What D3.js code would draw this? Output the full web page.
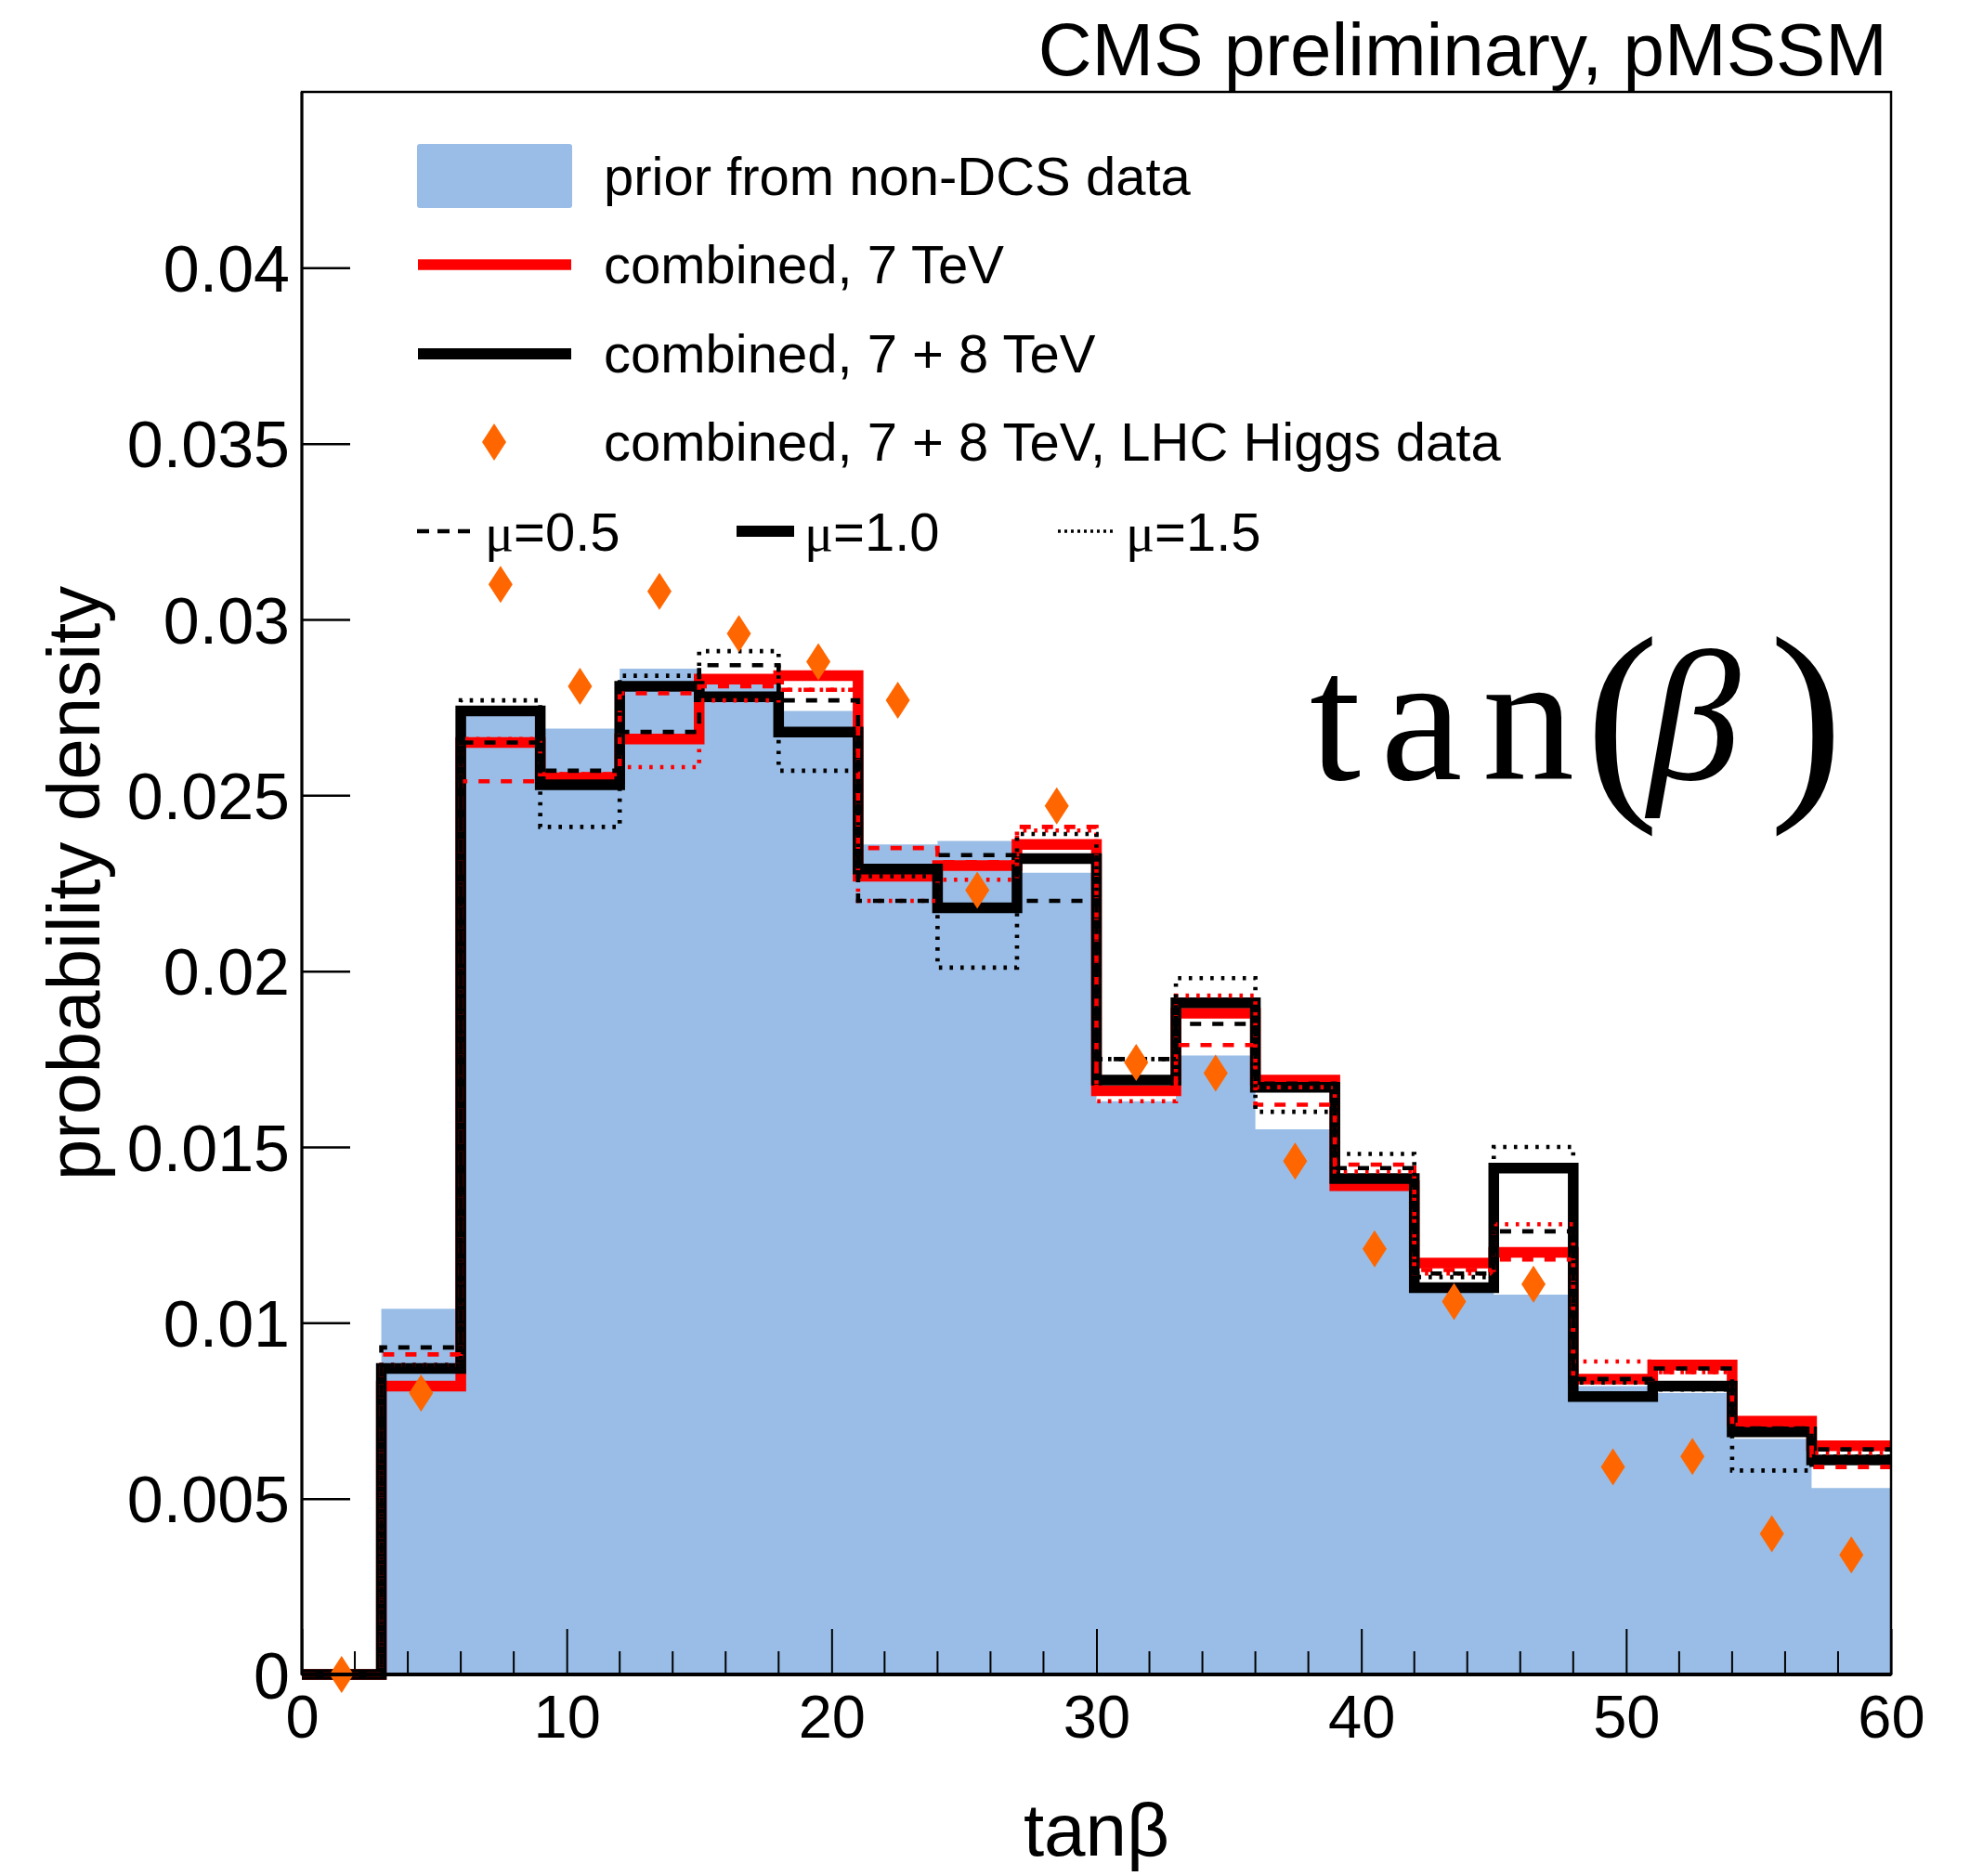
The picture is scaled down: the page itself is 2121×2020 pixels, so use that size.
<!DOCTYPE html>
<html>
<head>
<meta charset="utf-8">
<script src="https://cdn.jsdelivr.net/npm/d3@7"></script>
<style>
  html, body { margin: 0; padding: 0; background: #fff; }
</style>
</head>
<body>
<svg id="chart" width="2121" height="2020" font-family="Liberation Sans, Arial, sans-serif"></svg>
<script>
// tan(beta) bins, width 3
const binLow = [0, 3, 6, 9, 12, 15, 18, 21, 24, 27, 30, 33, 36, 39, 42, 45, 48, 51, 54, 57];
const binHigh = 60;
const binCenter = [1.5, 4.5, 7.5, 10.5, 13.5, 16.5, 19.5, 22.5, 25.5, 28.5, 31.5, 34.5, 37.5, 40.5, 43.5, 46.5, 49.5, 52.5, 55.5, 58.5];

const prior = [0, 0.0104, 0.0273, 0.0269, 0.0286, 0.0282, 0.0274, 0.0236, 0.0237, 0.0228, 0.0163, 0.0176, 0.0155, 0.0139, 0.0109, 0.0108, 0.0082, 0.0080, 0.0067, 0.0053];

const comb7 = [0, 0.0082, 0.0265, 0.0255, 0.0266, 0.0283, 0.0284, 0.0227, 0.0230, 0.0236, 0.0166, 0.0188, 0.0169, 0.0139, 0.0117, 0.0120, 0.0084, 0.0088, 0.0072, 0.0065];
const comb7mu05 = [0, 0.0091, 0.0254, 0.0256, 0.0279, 0.0281, 0.0280, 0.0235, 0.0231, 0.0241, 0.0166, 0.0179, 0.0162, 0.0145, 0.0115, 0.0118, 0.0084, 0.0086, 0.0071, 0.0059];
const comb7mu15 = [0, 0.0088, 0.0266, 0.0256, 0.0258, 0.0277, 0.0280, 0.0220, 0.0226, 0.0240, 0.0163, 0.0193, 0.0167, 0.0143, 0.0114, 0.0128, 0.0089, 0.0086, 0.0071, 0.0063];

const comb78 = [0, 0.0087, 0.0274, 0.0253, 0.0281, 0.0278, 0.0268, 0.0229, 0.0218, 0.0232, 0.0169, 0.0191, 0.0167, 0.0141, 0.0110, 0.0144, 0.0079, 0.0082, 0.0069, 0.0061];
const comb78mu05 = [0, 0.0093, 0.0265, 0.0257, 0.0268, 0.0287, 0.0277, 0.0220, 0.0233, 0.0220, 0.0175, 0.0185, 0.0168, 0.0144, 0.0114, 0.0126, 0.0084, 0.0087, 0.0070, 0.0064];
const comb78mu15 = [0, 0.0088, 0.0277, 0.0241, 0.0284, 0.0291, 0.0257, 0.0227, 0.0201, 0.0239, 0.0175, 0.0198, 0.0160, 0.0148, 0.0113, 0.0150, 0.0083, 0.0081, 0.0058, 0.0062];

const higgs = [0, 0.0080, 0.0310, 0.0281, 0.0308, 0.0296, 0.0288, 0.0277, 0.0223, 0.0247, 0.0174, 0.0171, 0.0146, 0.0121, 0.0106, 0.0111, 0.0059, 0.0062, 0.0040, 0.0034];

const xTickValues = [0, 10, 20, 30, 40, 50, 60];
const xTickLabels = ["0", "10", "20", "30", "40", "50", "60"];
const xMinorTicks = d3.range(0, 61, 2).filter((v) => v % 10 !== 0);
const yTickValues = [0, 0.005, 0.01, 0.015, 0.02, 0.025, 0.03, 0.035, 0.04];
const yTickLabels = ["0", "0.005", "0.01", "0.015", "0.02", "0.025", "0.03", "0.035", "0.04"];

const blue = "#99bde6";
const red = "#ff0000";
const orange = "#ff6600";
const sans = "Liberation Sans, Arial, sans-serif";
const serif = "Liberation Serif, DejaVu Serif, serif";

const svg = d3.select("#chart");

const margin = { top: 99, left: 325, right: 85, bottom: 217 };
const width = 2121, height = 2020;
const innerWidth = width - margin.left - margin.right,
  innerHeight = height - margin.top - margin.bottom;

const xScale = d3.scaleLinear().domain([0, 60]).range([0, innerWidth]);
const yScale = d3.scaleLinear().domain([0, 0.045]).range([innerHeight, 0]);

const g = svg.append("g").attr("transform", `translate(${margin.left},${margin.top})`);

const stepPoints = (vals) => {
  const pts = vals.map((v, i) => [binLow[i], v]);
  pts.push([binHigh, vals[vals.length - 1]]);
  return pts;
};

const area = d3
  .area()
  .curve(d3.curveStepAfter)
  .x((d) => xScale(d[0]))
  .y0(yScale(0))
  .y1((d) => yScale(d[1]));

const line = d3
  .line()
  .curve(d3.curveStepAfter)
  .x((d) => xScale(d[0]))
  .y((d) => yScale(d[1]));

// prior fill
g.append("path").datum(stepPoints(prior)).attr("d", area).attr("fill", blue);

// axes
const gx = g.append("g").attr("transform", `translate(0,${innerHeight})`);
gx.call(
  d3.axisBottom(xScale).tickValues(xTickValues).tickSize(-49).tickPadding(22)
    .tickFormat((d, i) => xTickLabels[i])
);
gx.selectAll(".tick line").attr("stroke", "#000").attr("stroke-width", 2);
gx.selectAll("text").attr("font-size", 65).attr("font-family", sans).attr("fill", "#000").attr("dy", "0.71em");
gx.select(".domain").remove();
gx.selectAll(".minor")
  .data(xMinorTicks)
  .join("line")
  .attr("class", "minor")
  .attr("x1", (d) => xScale(d))
  .attr("x2", (d) => xScale(d))
  .attr("y1", 0)
  .attr("y2", -25)
  .attr("stroke", "#000")
  .attr("stroke-width", 2);

const gy = g.append("g");
gy.call(
  d3.axisLeft(yScale).tickValues(yTickValues).tickSize(-52).tickPadding(13)
    .tickFormat((d, i) => yTickLabels[i])
);
gy.selectAll(".tick line").attr("stroke", "#000").attr("stroke-width", 2.5);
gy.selectAll("text").attr("font-size", 70).attr("font-family", sans).attr("fill", "#000").attr("dy", "0.36em");
gy.select(".domain").remove();

// histograms
const series = [
  { vals: comb7, color: red, w: 11.5, dash: null },
  { vals: comb78, color: "#000", w: 11.5, dash: null },
  { vals: comb7mu05, color: red, w: 4.6, dash: "12,12" },
  { vals: comb7mu15, color: red, w: 4.6, dash: "3.6,8" },
  { vals: comb78mu05, color: "#000", w: 4.6, dash: "12,12" },
  { vals: comb78mu15, color: "#000", w: 4.6, dash: "3.6,8" },
];

g.selectAll(".hist")
  .data(series)
  .join("path")
  .attr("class", "hist")
  .attr("d", (d) => line(stepPoints(d.vals)))
  .attr("fill", "none")
  .attr("stroke", (d) => d.color)
  .attr("stroke-width", (d) => d.w)
  .attr("stroke-linejoin", "miter")
  .attr("stroke-dasharray", (d) => d.dash);

// LHC Higgs markers
const diamond = "M0,-20L13,0L0,20L-13,0Z";
g.selectAll(".higgs")
  .data(higgs)
  .join("path")
  .attr("class", "higgs")
  .attr("d", diamond)
  .attr("transform", (d, i) => `translate(${xScale(binCenter[i])},${yScale(d)})`)
  .attr("fill", orange);

// frame
g.append("rect")
  .attr("width", innerWidth)
  .attr("height", innerHeight)
  .attr("fill", "none")
  .attr("stroke", "#000")
  .attr("stroke-width", 2.5);
g.append("line")
  .attr("x1", 0).attr("x2", innerWidth)
  .attr("y1", innerHeight).attr("y2", innerHeight)
  .attr("stroke", "#000").attr("stroke-width", 4);
g.append("line")
  .attr("x1", 0).attr("x2", 0)
  .attr("y1", 0).attr("y2", innerHeight)
  .attr("stroke", "#000").attr("stroke-width", 3);

// titles
svg.append("text")
  .attr("x", 2032).attr("y", 81)
  .attr("text-anchor", "end")
  .attr("font-size", 80)
  .text("CMS preliminary, pMSSM");

svg.append("text")
  .attr("x", margin.left + innerWidth / 2).attr("y", 1998)
  .attr("text-anchor", "middle")
  .attr("font-size", 80)
  .text("tanβ");

svg.append("text")
  .attr("transform", `translate(107,${margin.top + innerHeight / 2}) rotate(-90)`)
  .attr("text-anchor", "middle")
  .attr("font-size", 80)
  .text("probability density");

// big tan(beta) label
svg.append("text")
  .attr("x", 1410).attr("y", 839)
  .attr("font-family", serif).attr("font-size", 198)
  .attr("textLength", 285).attr("lengthAdjust", "spacing")
  .text("tan");
svg.append("text")
  .attr("x", 1707).attr("y", 850)
  .attr("font-family", serif).attr("font-size", 238)
  .text("(");
svg.append("text")
  .attr("x", 1774).attr("y", 839)
  .attr("font-family", serif).attr("font-style", "italic").attr("font-size", 200)
  .text("β");
svg.append("text")
  .attr("x", 1905).attr("y", 850)
  .attr("font-family", serif).attr("font-size", 238)
  .text(")");

// legend
const legendRows = [
  { label: "prior from non-DCS data", kind: "box", y: 190 },
  { label: "combined, 7 TeV", kind: "line", color: red, w: 11.5, y: 285 },
  { label: "combined, 7 + 8 TeV", kind: "line", color: "#000", w: 12, y: 381 },
  { label: "combined, 7 + 8 TeV, LHC Higgs data", kind: "marker", y: 476 },
];
const leg = svg.append("g");
legendRows.forEach((r) => {
  if (r.kind === "box") {
    leg.append("rect").attr("x", 449).attr("y", 155).attr("width", 167).attr("height", 69)
      .attr("rx", 3).attr("fill", blue);
  } else if (r.kind === "line") {
    leg.append("line").attr("x1", 450).attr("x2", 615).attr("y1", r.y).attr("y2", r.y)
      .attr("stroke", r.color).attr("stroke-width", r.w);
  } else {
    leg.append("path").attr("d", diamond).attr("transform", `translate(532,${r.y})`).attr("fill", orange);
  }
  leg.append("text").attr("x", 650).attr("y", r.y + 20).attr("font-size", 58).text(r.label);
});

const muRows = [
  { value: "0.5", x: 449, w: 4.6, dash: "13,9" },
  { value: "1.0", x: 793, w: 12, dash: null },
  { value: "1.5", x: 1139, w: 3.5, dash: "3,4" },
];
muRows.forEach((m) => {
  leg.append("line").attr("x1", m.x).attr("x2", m.x + 62).attr("y1", 572).attr("y2", 572)
    .attr("stroke", "#000").attr("stroke-width", m.w).attr("stroke-dasharray", m.dash);
  const t = leg.append("text").attr("x", m.x + 73).attr("y", 593).attr("font-size", 58);
  t.append("tspan").attr("font-family", serif).text("μ");
  t.append("tspan").text("=" + m.value);
});
</script>
</body>
</html>
